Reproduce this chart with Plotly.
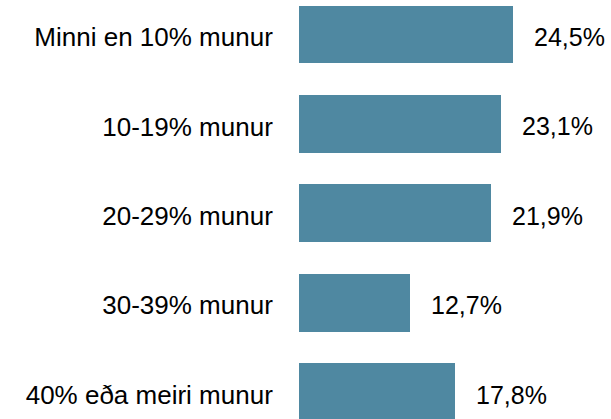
import plotly.graph_objects as go

# Share of respondents by size of difference
categories = [
    "Minni en 10% munur",
    "10-19% munur",
    "20-29% munur",
    "30-39% munur",
    "40% eða meiri munur",
]
values = [24.5, 23.1, 21.9, 12.7, 17.8]
value_labels = ["24,5%", "23,1%", "21,9%", "12,7%", "17,8%"]

bar_color = "#4f88a1"
font_family = "Liberation Sans, Arial, sans-serif"

fig = go.Figure()
fig.add_trace(
    go.Bar(
        x=values,
        y=categories,
        orientation="h",
        marker=dict(color=bar_color, line=dict(width=0)),
        width=0.647,
        offset=-0.352,
        hoverinfo="skip",
    )
)

# value labels to the right of each bar
for cat, val, lab in zip(categories, values, value_labels):
    fig.add_annotation(
        x=val,
        y=cat,
        text=lab,
        showarrow=False,
        xanchor="left",
        yanchor="middle",
        xshift=19,
        font=dict(family=font_family, size=25, color="#000000"),
    )

fig.update_layout(
    width=611,
    height=419,
    margin=dict(l=299, r=0, t=0, b=0),
    paper_bgcolor="white",
    plot_bgcolor="white",
    showlegend=False,
    bargap=0,
    font=dict(family=font_family, size=26, color="#000000"),
    xaxis=dict(
        range=[0, 35.66],
        visible=False,
        showgrid=False,
        zeroline=False,
        fixedrange=True,
    ),
    yaxis=dict(
        range=[4.273, -0.414],
        showgrid=False,
        zeroline=False,
        showline=False,
        ticks="outside",
        ticklen=20,
        tickcolor="rgba(0,0,0,0)",
        tickfont=dict(family=font_family, size=26, color="#000000"),
        fixedrange=True,
    ),
)

fig.write_html("out.html")
